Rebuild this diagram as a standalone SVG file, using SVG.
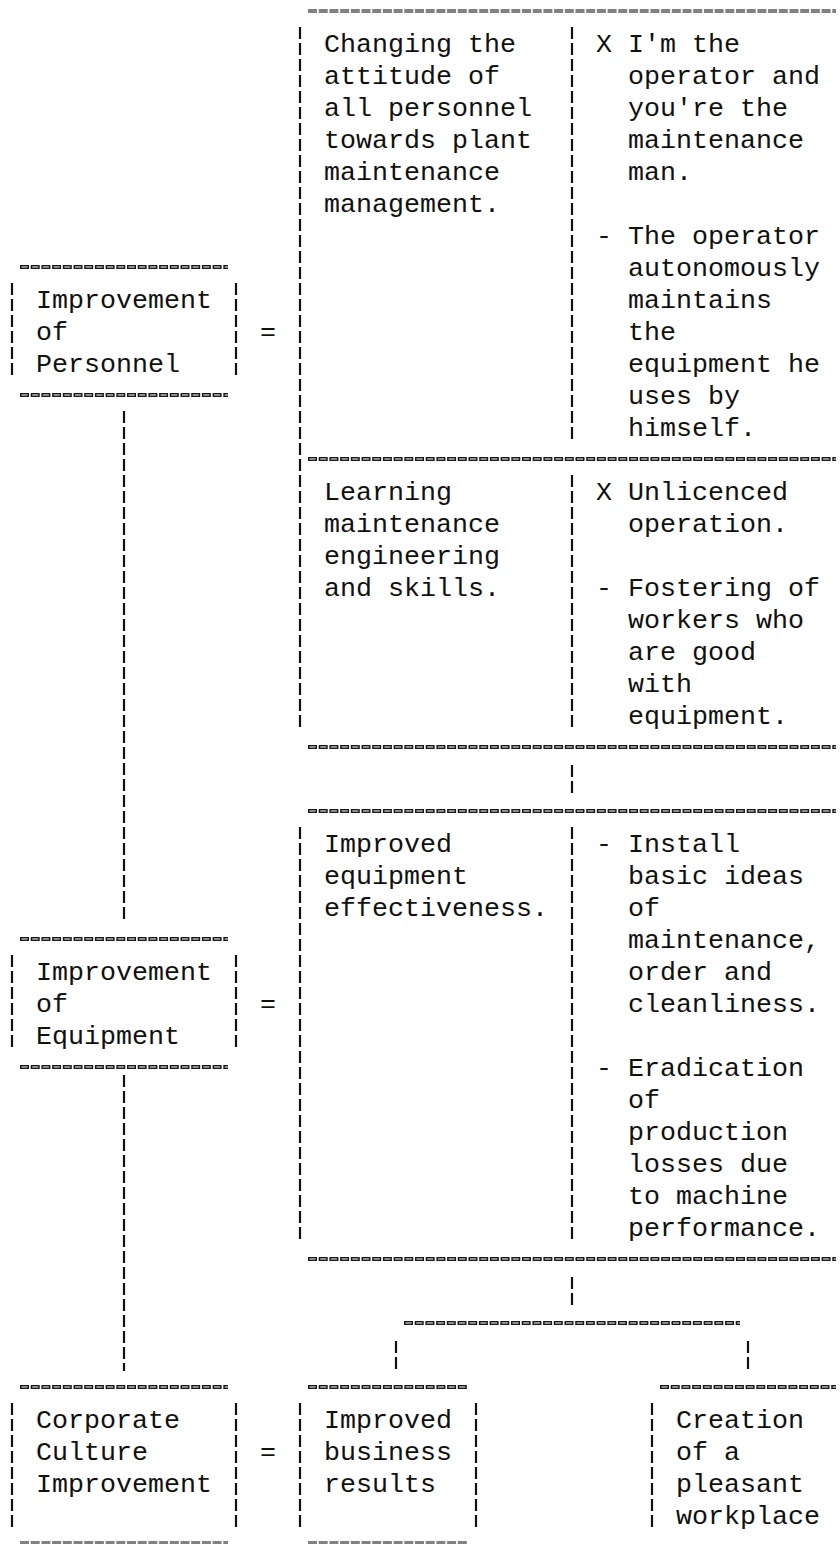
<svg xmlns="http://www.w3.org/2000/svg" width="840" height="1544" viewBox="0 0 840 1544">
<style>
text{font-family:"Liberation Mono","DejaVu Sans Mono",monospace;font-size:26.67px;fill:#111}
.h{stroke:#1a1a1a;stroke-width:4;stroke-dasharray:9 1.7;fill:none}
.hi{stroke:#fff;stroke-width:1.2;stroke-dasharray:6 4.7;stroke-dashoffset:-1.5;fill:none}
.v{stroke:#111;stroke-width:2.2;stroke-dasharray:12 4;fill:none}
.faint{opacity:0.55}
</style>
<rect width="840" height="1544" fill="#fff"/>

<g id="connectors">
  <g class="faint"><line class="h" x1="308" y1="11" x2="836" y2="11"/></g>
  <line class="h" x1="308" y1="459" x2="836" y2="459"/>
  <line class="h" x1="308" y1="747" x2="836" y2="747"/>
  <line class="h" x1="308" y1="811" x2="836" y2="811"/>
  <line class="h" x1="308" y1="1259" x2="836" y2="1259"/>
  <line class="h" x1="404" y1="1323" x2="740" y2="1323"/>
  <line class="hi" x1="308" y1="459" x2="836" y2="459"/>
  <line class="hi" x1="308" y1="747" x2="836" y2="747"/>
  <line class="hi" x1="308" y1="811" x2="836" y2="811"/>
  <line class="hi" x1="308" y1="1259" x2="836" y2="1259"/>
  <line class="hi" x1="404" y1="1323" x2="740" y2="1323"/>
  <line class="v" x1="124" y1="411" x2="124" y2="923"/>
  <line class="v" x1="124" y1="1075" x2="124" y2="1371"/>
  <line class="v" x1="300" y1="27" x2="300" y2="731"/>
  <line class="v" x1="300" y1="827" x2="300" y2="1243"/>
  <line class="v" x1="572" y1="27" x2="572" y2="443"/>
  <line class="v" x1="572" y1="475" x2="572" y2="731"/>
  <line class="v" x1="572" y1="765" x2="572" y2="793"/>
  <line class="v" x1="572" y1="827" x2="572" y2="1243"/>
  <line class="v" x1="572" y1="1277" x2="572" y2="1305"/>
  <line class="v" x1="396" y1="1341" x2="396" y2="1369"/>
  <line class="v" x1="748" y1="1341" x2="748" y2="1369"/>
</g>

<g id="node-personnel">
  <line class="h" x1="20" y1="267" x2="228" y2="267"/>
  <line class="hi" x1="20" y1="267" x2="228" y2="267"/>
  <line class="h" x1="20" y1="395" x2="228" y2="395"/>
  <line class="hi" x1="20" y1="395" x2="228" y2="395"/>
  <line class="v" x1="12" y1="283" x2="12" y2="379"/>
  <line class="v" x1="236" y1="283" x2="236" y2="379"/>
  <text x="36" y="308">Improvement</text>
  <text x="36" y="340">of</text>
  <text x="36" y="372">Personnel</text>
  <text x="260" y="340">=</text>
</g>

<g id="node-equipment">
  <line class="h" x1="20" y1="939" x2="228" y2="939"/>
  <line class="hi" x1="20" y1="939" x2="228" y2="939"/>
  <line class="h" x1="20" y1="1067" x2="228" y2="1067"/>
  <line class="hi" x1="20" y1="1067" x2="228" y2="1067"/>
  <line class="v" x1="12" y1="955" x2="12" y2="1051"/>
  <line class="v" x1="236" y1="955" x2="236" y2="1051"/>
  <text x="36" y="980">Improvement</text>
  <text x="36" y="1012">of</text>
  <text x="36" y="1044">Equipment</text>
  <text x="260" y="1012">=</text>
</g>

<g id="node-culture">
  <line class="h" x1="20" y1="1387" x2="228" y2="1387"/>
  <line class="hi" x1="20" y1="1387" x2="228" y2="1387"/>
  <g class="faint"><line class="h" x1="20" y1="1543" x2="228" y2="1543"/></g>
  <line class="v" x1="12" y1="1403" x2="12" y2="1531"/>
  <line class="v" x1="236" y1="1403" x2="236" y2="1531"/>
  <text x="36" y="1428">Corporate</text>
  <text x="36" y="1460">Culture</text>
  <text x="36" y="1492">Improvement</text>
  <text x="260" y="1460">=</text>
</g>

<g id="node-results">
  <line class="h" x1="308" y1="1387" x2="468" y2="1387"/>
  <line class="hi" x1="308" y1="1387" x2="468" y2="1387"/>
  <g class="faint"><line class="h" x1="308" y1="1543" x2="468" y2="1543"/></g>
  <line class="v" x1="300" y1="1403" x2="300" y2="1531"/>
  <line class="v" x1="476" y1="1403" x2="476" y2="1531"/>
  <text x="324" y="1428">Improved</text>
  <text x="324" y="1460">business</text>
  <text x="324" y="1492">results</text>
</g>

<g id="node-workplace">
  <line class="h" x1="660" y1="1387" x2="836" y2="1387"/>
  <line class="hi" x1="660" y1="1387" x2="836" y2="1387"/>
  <line class="v" x1="652" y1="1403" x2="652" y2="1531"/>
  <text x="676" y="1428">Creation</text>
  <text x="676" y="1460">of a</text>
  <text x="676" y="1492">pleasant</text>
  <text x="676" y="1524">workplace</text>
</g>

<g id="node-attitude">
  <text x="324" y="52">Changing the</text>
  <text x="324" y="84">attitude of</text>
  <text x="324" y="116">all personnel</text>
  <text x="324" y="148">towards plant</text>
  <text x="324" y="180">maintenance</text>
  <text x="324" y="212">management.</text>
  <text x="596" y="52">X I'm the</text>
  <text x="628" y="84">operator and</text>
  <text x="628" y="116">you're the</text>
  <text x="628" y="148">maintenance</text>
  <text x="628" y="180">man.</text>
  <text x="596" y="244">- The operator</text>
  <text x="628" y="276">autonomously</text>
  <text x="628" y="308">maintains</text>
  <text x="628" y="340">the</text>
  <text x="628" y="372">equipment he</text>
  <text x="628" y="404">uses by</text>
  <text x="628" y="436">himself.</text>
</g>

<g id="node-learning">
  <text x="324" y="500">Learning</text>
  <text x="324" y="532">maintenance</text>
  <text x="324" y="564">engineering</text>
  <text x="324" y="596">and skills.</text>
  <text x="596" y="500">X Unlicenced</text>
  <text x="628" y="532">operation.</text>
  <text x="596" y="596">- Fostering of</text>
  <text x="628" y="628">workers who</text>
  <text x="628" y="660">are good</text>
  <text x="628" y="692">with</text>
  <text x="628" y="724">equipment.</text>
</g>

<g id="node-effectiveness">
  <text x="324" y="852">Improved</text>
  <text x="324" y="884">equipment</text>
  <text x="324" y="916">effectiveness.</text>
  <text x="596" y="852">- Install</text>
  <text x="628" y="884">basic ideas</text>
  <text x="628" y="916">of</text>
  <text x="628" y="948">maintenance,</text>
  <text x="628" y="980">order and</text>
  <text x="628" y="1012">cleanliness.</text>
  <text x="596" y="1076">- Eradication</text>
  <text x="628" y="1108">of</text>
  <text x="628" y="1140">production</text>
  <text x="628" y="1172">losses due</text>
  <text x="628" y="1204">to machine</text>
  <text x="628" y="1236">performance.</text>
</g>
</svg>
